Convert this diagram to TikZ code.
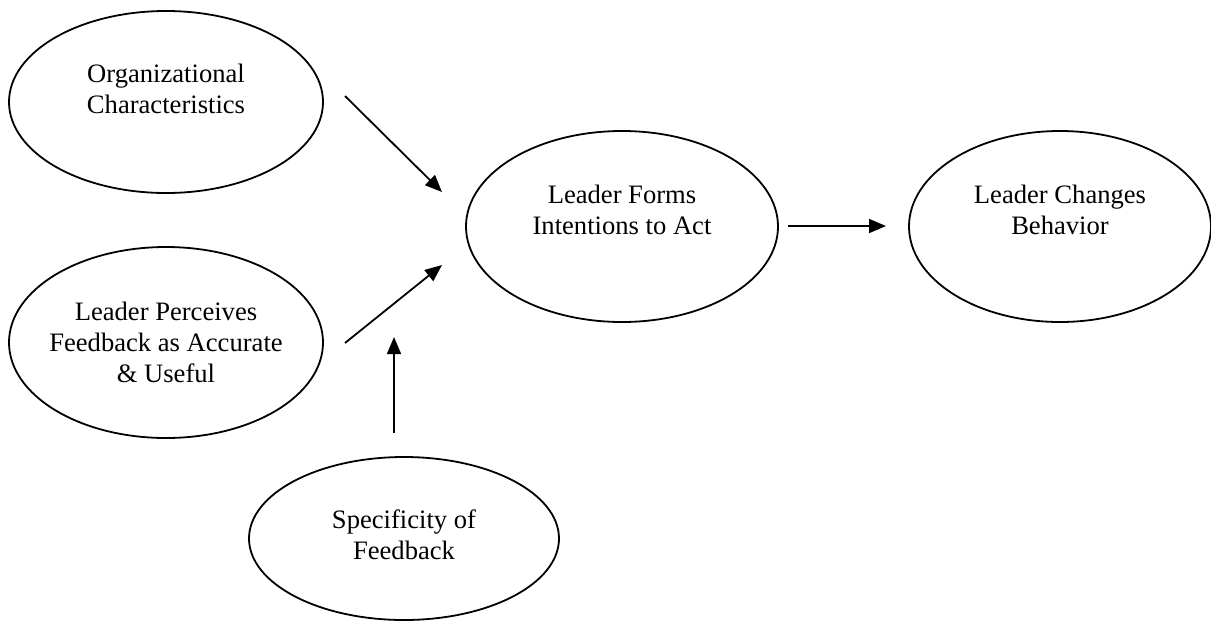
\documentclass[tikz,border=0pt]{standalone}
\usepackage{fontspec}
\setmainfont{Liberation Serif}
\usetikzlibrary{arrows.meta}
\begin{document}
\begin{tikzpicture}[x=1pt,y=-1pt,
  oval/.style={draw=black,line width=1.8pt},
  txt/.style={align=center,inner sep=0pt,font=\fontsize{26.6}{31}\selectfont},
  conn/.style={line width=1.8pt,-{Triangle[length=17pt,width=14pt]}}]
\useasboundingbox (0,0) rectangle (1211,622);
% ellipses
\draw[oval] (166,102) ellipse [x radius=157, y radius=91];
\draw[oval] (166,342.5) ellipse [x radius=157, y radius=95.5];
\draw[oval] (622,226.5) ellipse [x radius=156, y radius=95.5];
\draw[oval] (1060,226.5) ellipse [x radius=151, y radius=95.5];
\draw[oval] (404,538.5) ellipse [x radius=155, y radius=81.5];
% texts
\node[txt] (org) at (166,88.5) {Organizational\\Characteristics};
\node[txt] (perc) at (166,342) {Leader Perceives\\Feedback as Accurate\\\& Useful};
\node[txt] (forms) at (622,209.5) {Leader Forms\\Intentions to Act};
\node[txt] (chg) at (1060,209.5) {Leader Changes\\Behavior};
\node[txt] (spec) at (404,535) {Specificity of\\Feedback};
% connector end points
\coordinate (a1s) at (345,96);
\coordinate (a1e) at (442,192);
\coordinate (a2s) at (345,343);
\coordinate (a2e) at (442,265);
\coordinate (a3s) at (394,433);
\coordinate (a3e) at (394,337);
\coordinate (a4s) at (788,226);
\coordinate (a4e) at (886,226);
\draw[conn] (a1s) -- (a1e);
\draw[conn] (a2s) -- (a2e);
\draw[conn] (a3s) -- (a3e);
\draw[conn] (a4s) -- (a4e);
\end{tikzpicture}
\end{document}
